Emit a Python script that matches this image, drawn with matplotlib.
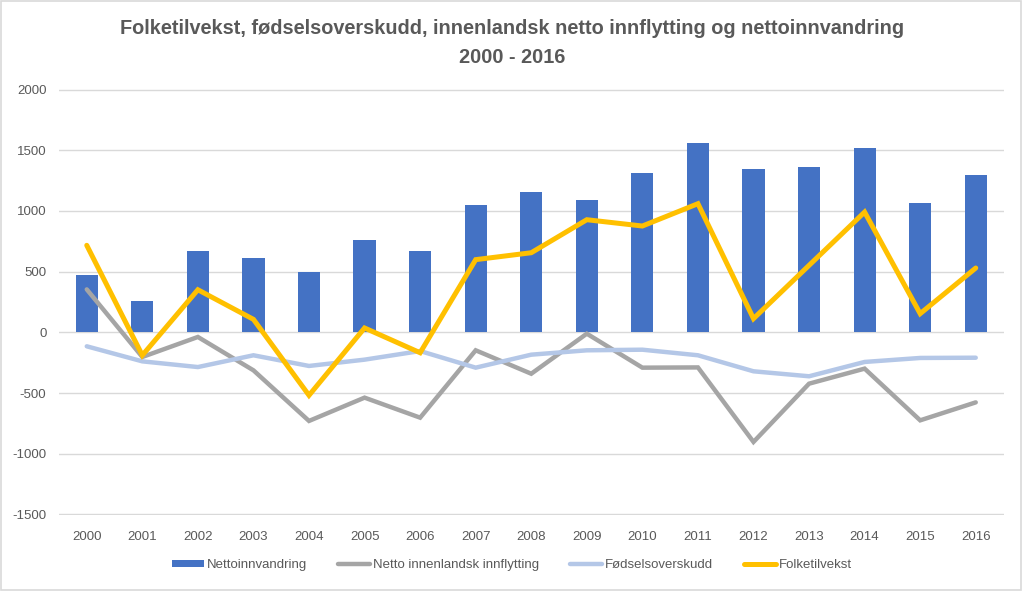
import numpy as np
import matplotlib
matplotlib.use("Agg")
from matplotlib import pyplot as plt
from matplotlib.patches import Rectangle

#Data
years = [str(y) for y in range(2000, 2017)]
nettoinnvandring = [475, 255, 667, 610, 494, 763, 667, 1049, 1159, 1087,
                    1315, 1560, 1345, 1365, 1521, 1068, 1299]
netto_innenlandsk = [354, -203, -38, -313, -730, -538, -703, -148, -341, -11,
                     -291, -289, -903, -423, -299, -725, -577]
fodselsoverskudd = [-115, -239, -286, -189, -277, -225, -154, -291, -184, -148,
                    -143, -189, -321, -362, -244, -211, -209]
folketilvekst = [717, -189, 351, 107, -519, 36, -168, 599, 656, 928,
                 876, 1060, 113, 552, 991, 154, 530]
y_ticks = [-1500, -1000, -500, 0, 500, 1000, 1500, 2000]

TEXT = '#595959'
plt.rcParams['font.family'] = ['Liberation Sans', 'DejaVu Sans']

fig = plt.figure(figsize=(10.24, 5.91), dpi=100)
ax = fig.add_axes([0.0576, 0.129, 0.9224, 0.72])
x = np.arange(len(years))

b = ax.bar(x, nettoinnvandring, width=0.4, color='#4472C4', label='Nettoinnvandring', zorder=2)
l1, = ax.plot(x, netto_innenlandsk, color='#A5A5A5', lw=3.2, label='Netto innenlandsk innflytting',
              solid_capstyle='round', solid_joinstyle='miter', zorder=3)
l2, = ax.plot(x, fodselsoverskudd, color='#B4C7E7', lw=3.2, label='Fødselsoverskudd',
              solid_capstyle='round', solid_joinstyle='miter', zorder=4)
l3, = ax.plot(x, folketilvekst, color='#FFC000', lw=3.6, label='Folketilvekst',
              solid_capstyle='round', solid_joinstyle='miter', zorder=5)

ax.set_xlim(-0.5, len(years) - 0.5)
ax.set_ylim(-1503, 2003)
ax.set_yticks(y_ticks)
ax.set_yticklabels([str(v) for v in y_ticks])
ax.set_xticks(x)
ax.set_xticklabels(years)
ax.tick_params(length=0, labelsize=9.5, colors=TEXT)
ax.tick_params(axis='x', pad=12)
ax.tick_params(axis='y', pad=9)
ax.grid(axis='y', color='#D9D9D9', lw=1, zorder=0)
for s in ax.spines.values():
    s.set_visible(False)

fig.text(0.5, 0.952, 'Folketilvekst, fødselsoverskudd, innenlandsk netto innflytting og nettoinnvandring',
         ha='center', va='center', fontsize=14.3, fontweight='bold', color=TEXT)
fig.text(0.5, 0.903, '2000 - 2016', ha='center', va='center', fontsize=14.3,
         fontweight='bold', color=TEXT)

leg = fig.legend([b, l1, l2, l3], [b.get_label(), l1.get_label(), l2.get_label(), l3.get_label()],
                 loc='center', bbox_to_anchor=(0.5, 0.044), ncol=4, frameon=False,
                 fontsize=9.5, handlelength=2.4, handleheight=0.5, handletextpad=0.2,
                 columnspacing=2.4)
for t in leg.get_texts():
    t.set_color(TEXT)

#chart border
fig.patches.append(Rectangle((0.001, 0.002), 0.996, 0.996, transform=fig.transFigure,
                             fill=False, edgecolor='#D9D9D9', lw=1.2))

fig.savefig('out.png', dpi=100)
